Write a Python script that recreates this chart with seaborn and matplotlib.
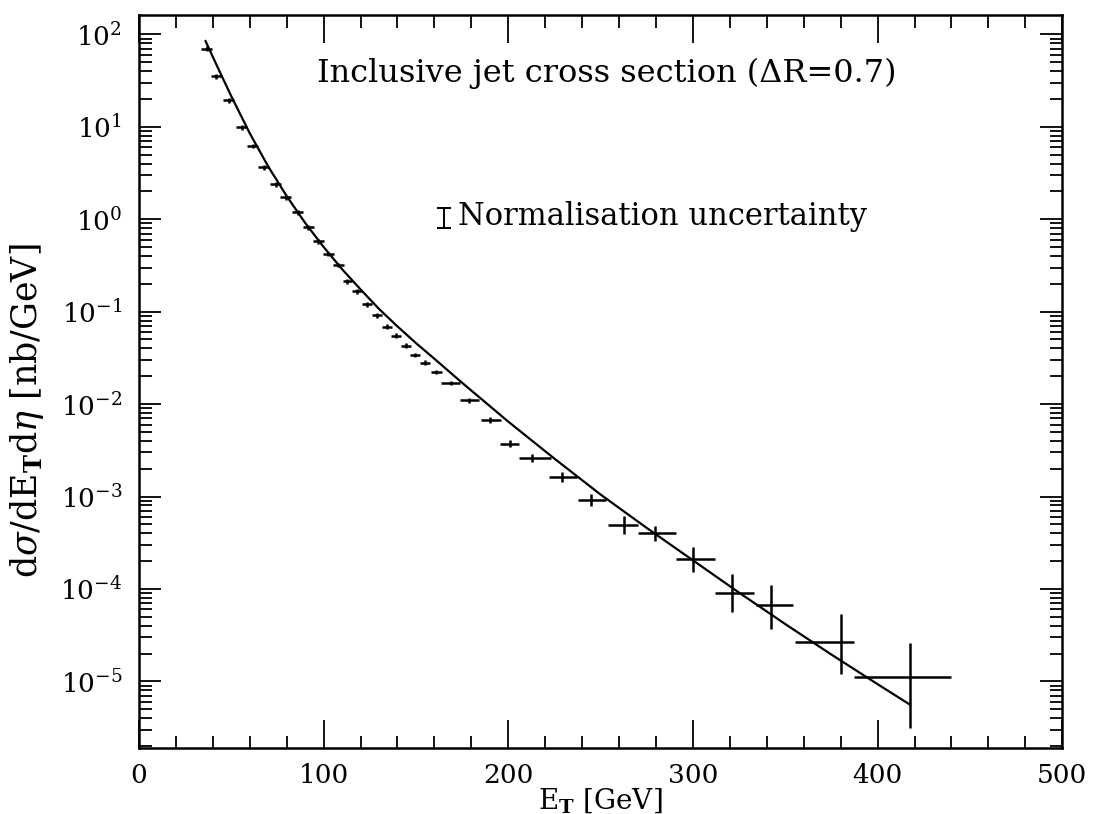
import numpy as np
import pandas as pd
import matplotlib
matplotlib.use("Agg")
import matplotlib.pyplot as plt
from matplotlib.ticker import LogLocator, MultipleLocator, NullFormatter
import seaborn as sns

# Measured inclusive jet cross section (bin centre, value, bin edges, error band)
et_points = [36.7, 42.0, 48.6, 55.6, 61.6, 67.5, 74.0, 79.4, 85.9, 91.8,
             97.2, 102.6, 108.0, 112.9, 118.0, 123.6, 129.0, 134.5, 139.0, 144.7,
             149.6, 155.0, 160.9, 169.0, 179.0, 190.0, 201.0, 212.8, 229.0, 244.6,
             262.4, 279.7, 300.2, 321.3, 342.3, 380.0, 417.4]
sigma_points = [70.0, 35.0, 19.3, 9.9, 6.2, 3.65, 2.39, 1.73, 1.19, 0.82,
                0.58, 0.42, 0.32, 0.214, 0.166, 0.12, 0.091, 0.069, 0.055, 0.043,
                0.034, 0.028, 0.0222, 0.0169, 0.011, 0.0067, 0.0037, 0.0026, 0.00162, 0.00091,
                0.00049, 0.00040, 0.00021, 9.1e-5, 6.76e-5, 2.69e-5, 1.12e-5]
et_lo = [33.8, 39.2, 45.6, 52.6, 58.7, 64.6, 71.0, 76.6, 83.0, 89.0,
         94.4, 99.8, 105.2, 110.3, 115.4, 120.8, 126.3, 131.8, 136.6, 142.0,
         147.0, 152.2, 158.0, 163.6, 174.0, 185.0, 195.5, 206.0, 222.0, 238.0,
         254.0, 270.0, 291.0, 312.0, 334.0, 355.0, 387.0]
et_hi = [39.6, 44.8, 51.6, 58.6, 64.6, 70.4, 77.0, 82.4, 88.8, 94.6,
         100.0, 105.4, 110.8, 115.6, 120.7, 126.3, 131.8, 137.2, 141.8, 147.4,
         152.2, 157.8, 164.0, 174.0, 184.0, 196.0, 205.7, 223.0, 237.0, 253.0,
         270.0, 291.0, 312.0, 333.0, 354.0, 387.0, 440.0]
sigma_lo = [65.8, 32.9, 18.1, 9.3, 5.83, 3.43, 2.25, 1.63, 1.12, 0.77,
            0.545, 0.395, 0.301, 0.201, 0.156, 0.113, 0.0855, 0.0649, 0.0517, 0.0404,
            0.032, 0.0263, 0.0209, 0.016, 0.0104, 0.0062, 0.0034, 0.00235, 0.00143, 0.00079,
            0.00039, 0.00033, 0.000152, 5.7e-5, 3.7e-5, 1.2e-5, 3.1e-6]
sigma_hi = [74.2, 37.1, 20.5, 10.5, 6.57, 3.87, 2.53, 1.83, 1.26, 0.87,
            0.615, 0.445, 0.339, 0.227, 0.176, 0.127, 0.0965, 0.0731, 0.0583, 0.0456,
            0.036, 0.0297, 0.0235, 0.0178, 0.0117, 0.0072, 0.00405, 0.00285, 0.00183, 0.00106,
            0.00062, 0.00048, 0.000283, 1.46e-4, 1.11e-4, 5.37e-5, 2.63e-5]

# NLO QCD prediction
et_theory = [36.0, 42.0, 50.0, 60.0, 70.0, 80.0, 90.0, 100.0, 110.0, 120.0,
             130.0, 140.0, 150.0, 160.0, 175.0, 200.0, 225.0, 250.0, 275.0, 300.0,
             325.0, 350.0, 375.0, 400.0, 417.4]
sigma_theory = [85.1, 46.8, 21.4, 8.51, 3.72, 1.78, 0.912, 0.501, 0.288, 0.174,
                0.107, 0.0692, 0.0457, 0.0309, 0.0170, 0.00646, 0.00257, 0.00105, 0.000457, 0.000204,
                9.12e-5, 4.17e-5, 1.95e-5, 9.33e-6, 5.62e-6]

# Normalisation uncertainty marker (centre, lower, upper)
norm_et = 165.0
norm_sigma = [1.03, 0.80, 1.31]

x_ticks = [0, 100, 200, 300, 400, 500]

title_text = "Inclusive jet cross section (\u0394R=0.7)"
norm_text = "Normalisation uncertainty"
x_label = r"E$_{\mathbf{T}}$ [GeV]"
y_label = r"d$\sigma$/dE$_{\mathbf{T}}$d$\eta$ [nb/GeV]"

sns.set_theme(style="ticks")
plt.rcParams["font.family"] = ["DejaVu Serif"]
plt.rcParams["mathtext.fontset"] = "dejavuserif"
plt.rcParams["axes.linewidth"] = 1.8
plt.rcParams["text.color"] = "black"
plt.rcParams["axes.labelcolor"] = "black"
plt.rcParams["xtick.color"] = "black"
plt.rcParams["ytick.color"] = "black"
plt.rcParams["axes.edgecolor"] = "black"

fig = plt.figure(figsize=(10.94, 8.14), dpi=100)
ax = fig.add_axes([0.127, 0.081, 0.844, 0.900])

theory = pd.DataFrame({"et": et_theory, "sigma": sigma_theory})
sns.lineplot(data=theory, x="et", y="sigma", ax=ax, color="black", linewidth=1.6,
             sort=True, estimator=None)

et = np.array(et_points)
sig = np.array(sigma_points)
xerr = np.vstack([et - np.array(et_lo), np.array(et_hi) - et])
yerr = np.vstack([sig - np.array(sigma_lo), np.array(sigma_hi) - sig])
ax.errorbar(et, sig, xerr=xerr, yerr=yerr, fmt="none", ecolor="black",
            elinewidth=1.8, capsize=0)

ax.errorbar([norm_et], [norm_sigma[0]],
            yerr=[[norm_sigma[0] - norm_sigma[1]], [norm_sigma[2] - norm_sigma[0]]],
            fmt="none", ecolor="black", elinewidth=1.4, capsize=5, capthick=1.4)
ax.text(norm_et + 8, 1.08, norm_text, fontsize=22, va="center", ha="left")
ax.text(0.193, 0.921, title_text, transform=ax.transAxes, fontsize=23,
        va="center", ha="left")

ax.set_yscale("log")
ax.set_xlim(0, 500)
ax.set_ylim(1.9e-6, 1.6e2)
ax.set_xticks(x_ticks)
ax.xaxis.set_minor_locator(MultipleLocator(20))
ax.yaxis.set_major_locator(LogLocator(base=10, numticks=20))
ax.yaxis.set_minor_locator(LogLocator(base=10, subs=np.arange(2, 10), numticks=100))
ax.yaxis.set_minor_formatter(NullFormatter())

ax.tick_params(which="both", direction="in", top=True, right=True, labelsize=19)
ax.tick_params(axis="x", which="major", length=20, width=1.3, pad=11)
ax.tick_params(axis="x", which="minor", length=9, width=1.3)
ax.tick_params(axis="y", which="major", length=16, width=1.3, pad=12)
ax.tick_params(axis="y", which="minor", length=9, width=1.3)

ax.set_xlabel(x_label, fontsize=20, labelpad=-2)
ax.set_ylabel(y_label, fontsize=25)
ax.yaxis.set_label_coords(-0.101, 0.46)

fig.savefig("out.png", dpi=100)
